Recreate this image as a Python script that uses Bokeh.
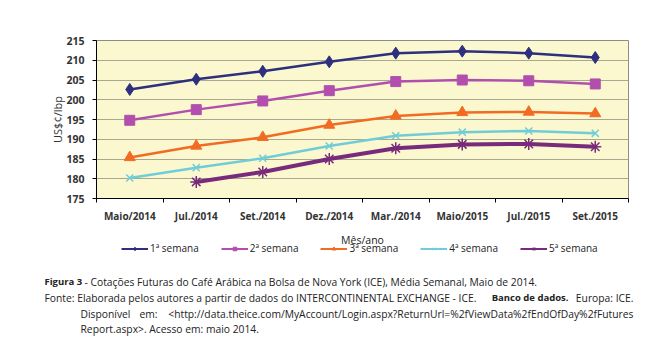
from bokeh.plotting import figure
from bokeh.models import (Range1d, FixedTicker, Legend, LegendItem, Label)
from bokeh.embed import file_html
from bokeh.resources import INLINE

months = ["Maio/2014", "Jul./2014", "Set./2014", "Dez./2014",
          "Mar./2014", "Maio/2015", "Jul./2015", "Set./2015"]
semana1 = [202.6, 205.2, 207.2, 209.6, 211.8, 212.3, 211.8, 210.7]
semana2 = [194.8, 197.5, 199.7, 202.3, 204.6, 205.0, 204.8, 204.0]
semana3 = [185.4, 188.3, 190.5, 193.6, 195.9, 196.8, 196.9, 196.5]
semana4 = [180.2, 182.8, 185.2, 188.3, 190.9, 191.8, 192.1, 191.5]
semana5 = [float("nan"), 179.2, 181.7, 185.0, 187.7, 188.7, 188.8, 188.1]
series_names = ["1ª semana", "2ª semana", "3ª semana", "4ª semana", "5ª semana"]
y_ticks = [175, 180, 185, 190, 195, 200, 205, 210, 215]

FONT = "Open Sans"
TXT = "#222222"
W = 660
xs = list(range(len(months)))

# ---------------- chart ----------------
p = figure(width=W, height=228, output_backend="svg", toolbar_location=None,
           x_range=Range1d(-0.5, len(months) - 0.5), y_range=Range1d(175, 215),
           min_border_left=96, min_border_right=W - 628, min_border_top=40,
           min_border_bottom=30)
p.background_fill_color = "#FBF8CF"
p.border_fill_color = "white"
p.outline_line_color = "#8C8C8C"
p.outline_line_width = 1

p.xaxis.ticker = FixedTicker(ticks=xs, minor_ticks=[i - 0.5 for i in range(len(months) + 1)])
p.xaxis.major_label_overrides = {i: m for i, m in enumerate(months)}
p.xaxis.major_tick_out = 0
p.xaxis.major_tick_in = 0
p.xaxis.minor_tick_out = 4
p.xaxis.minor_tick_in = 0
p.xaxis.minor_tick_line_color = "black"
p.xaxis.axis_line_color = "black"
p.xaxis.major_label_text_font = FONT
p.xaxis.major_label_text_font_size = "10px"
p.xaxis.major_label_text_font_style = "bold"
p.xaxis.major_label_text_color = "#333333"
p.xaxis.major_label_standoff = 6

p.yaxis.ticker = FixedTicker(ticks=y_ticks)
p.yaxis.major_tick_out = 4
p.yaxis.major_tick_in = 0
p.yaxis.minor_tick_line_color = None
p.yaxis.axis_line_color = "black"
p.yaxis.major_label_text_font = FONT
p.yaxis.major_label_text_font_size = "10.5px"
p.yaxis.major_label_text_font_style = "bold"
p.yaxis.major_label_text_color = "#333333"
p.yaxis.major_label_standoff = 8
p.yaxis.axis_label = "US$¢/lbp"
p.yaxis.axis_label_text_font = FONT
p.yaxis.axis_label_text_font_size = "11px"
p.yaxis.axis_label_text_font_style = "normal"
p.yaxis.axis_label_text_color = "#333333"
p.yaxis.axis_label_standoff = -2

p.xgrid.grid_line_color = None
p.ygrid.grid_line_color = "#A8A88E"
p.ygrid.grid_line_width = 1

colors = ["#2E2F7E", "#B24FAE", "#F26B22", "#70CDD8", "#782B7B"]
markers = ["diamond", "square", "triangle", "x", "asterisk"]
sizes = [12, 10, 11, 10, 12]
widths = [2.5, 2.5, 2.5, 2.5, 4]
data = [semana1, semana2, semana3, semana4, semana5]

for ys, c, m, s, w in zip(data, colors, markers, sizes, widths):
    p.line(xs, ys, line_color=c, line_width=w)
    p.scatter(xs, ys, marker=m, size=s, fill_color=c, line_color=c,
              line_width=1.5 if m in ("x", "asterisk") else 1)

# ---------------- legend + captions (separate root, not aligned) ----------------
H2 = 126
q = figure(width=W, height=H2, output_backend="svg", toolbar_location=None,
           x_range=Range1d(0, W), y_range=Range1d(0, H2),
           x_axis_location=None, y_axis_location=None,
           min_border=0, min_border_left=0, min_border_right=0,
           min_border_top=0, min_border_bottom=0)
q.outline_line_color = None
q.grid.grid_line_color = None
q.background_fill_color = "white"
q.border_fill_color = "white"

nan = float("nan")
items = []
for name, c, m, w in zip(series_names, colors, markers, widths):
    ln = q.line([nan, nan], [nan, nan], line_color=c, line_width=2)
    sc = q.scatter([nan], [nan], marker=m, size=6, fill_color=c, line_color=c)
    items.append(LegendItem(label=name, renderers=[ln, sc]))

legend = Legend(items=items, orientation="horizontal", location=(121, 99),
                padding=0, margin=0, spacing=22, glyph_width=27, glyph_height=9,
                label_height=9, label_standoff=2, label_text_font=FONT,
                label_text_font_size="10px", label_text_color=TXT,
                background_fill_alpha=0, border_line_color=None)
q.add_layout(legend, "center")

CS = "10.3px"

def lab(text, x, y, bold=False, align="left", size=CS):
    q.add_layout(Label(x=x, y=y, text=text,
                       text_font=FONT, text_font_size=size, text_align=align,
                       text_baseline="middle", text_color=TXT,
                       text_font_style="bold" if bold else "normal"))

lab("Mês/ano", 362, 115, align="center", size="10.5px")

lab("Figura 3", 44, 73, bold=True, size="9.5px")
lab("- Cotações Futuras do Café Arábica na Bolsa de Nova York (ICE), Média Semanal, Maio de 2014.",
    84, 73)
lab("Fonte: Elaborada pelos autores a partir de dados do INTERCONTINENTAL EXCHANGE - ICE.",
    44, 57)
lab("Banco de dados.", 568, 57, bold=True, align="right", size="9.5px")
lab("Europa: ICE.", 633, 57, align="right")
lab("Disponível", 80, 41)
lab("em:", 139, 41)
lab("<http://data.theice.com/MyAccount/Login.aspx?ReturnUrl=%2fViewData%2fEndOfDay%2fFutures",
    633, 41, align="right")
lab("Report.aspx>. Acesso em: maio 2014.", 80, 26)

open("out.html", "w").write(file_html([p, q], INLINE))
